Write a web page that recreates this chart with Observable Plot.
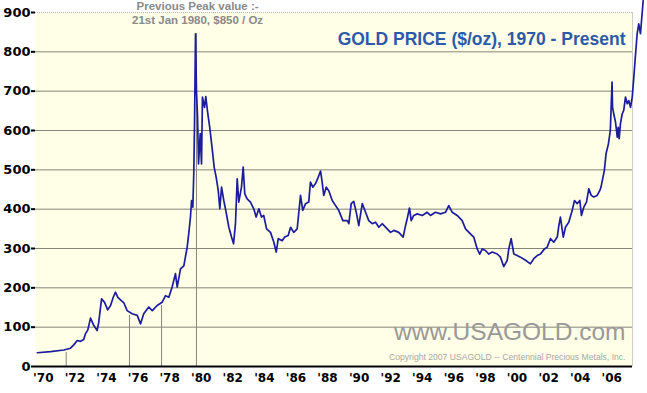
<!DOCTYPE html>
<html><head><meta charset="utf-8">
<script src="https://cdn.jsdelivr.net/npm/d3@7"></script>
<script src="https://cdn.jsdelivr.net/npm/@observablehq/plot@0.6"></script>
<style>body{margin:0;background:#fff}</style>
</head><body><div id="chart"></div>
<script>
// Gold price series (decimal year, $/oz)
const years = [1970.00,1970.84,1971.68,1972.10,1972.31,1972.53,1972.74,1972.94,1973.05,1973.20,1973.37,1973.58,1973.79,1973.89,1974.07,1974.26,1974.46,1974.64,1974.81,1974.95,1975.10,1975.27,1975.48,1975.69,1976.01,1976.33,1976.54,1976.74,1977.06,1977.28,1977.59,1977.91,1978.12,1978.33,1978.54,1978.75,1978.86,1979.07,1979.28,1979.49,1979.59,1979.70,1979.77,1979.85,1979.91,1979.96,1980.02,1980.08,1980.15,1980.21,1980.32,1980.40,1980.46,1980.59,1980.67,1980.80,1980.92,1981.11,1981.20,1981.33,1981.46,1981.56,1981.67,1981.81,1981.96,1982.13,1982.30,1982.43,1982.55,1982.66,1982.76,1982.93,1983.04,1983.14,1983.29,1983.50,1983.71,1983.86,1984.03,1984.20,1984.34,1984.52,1984.77,1984.98,1985.13,1985.26,1985.51,1985.67,1985.89,1986.04,1986.24,1986.46,1986.67,1986.81,1986.99,1987.19,1987.30,1987.45,1987.62,1987.79,1987.94,1988.04,1988.14,1988.30,1988.46,1988.68,1988.89,1989.09,1989.35,1989.63,1989.73,1989.88,1990.04,1990.22,1990.36,1990.58,1990.79,1990.99,1991.21,1991.42,1991.63,1991.84,1992.16,1992.37,1992.58,1992.89,1993.17,1993.32,1993.43,1993.57,1993.68,1993.84,1994.06,1994.38,1994.69,1994.90,1995.22,1995.54,1995.85,1996.06,1996.28,1996.59,1996.91,1997.12,1997.43,1997.64,1997.86,1998.02,1998.18,1998.38,1998.59,1998.81,1999.13,1999.33,1999.54,1999.76,1999.86,2000.01,2000.18,2000.39,2000.60,2000.92,2001.23,2001.44,2001.66,2001.87,2002.12,2002.29,2002.50,2002.71,2002.93,2003.03,2003.13,2003.31,2003.45,2003.66,2003.88,2004.02,2004.19,2004.36,2004.46,2004.61,2004.78,2004.93,2005.08,2005.24,2005.46,2005.62,2005.70,2005.91,2006.02,2006.17,2006.29,2006.40,2006.43,2006.51,2006.62,2006.73,2006.79,2006.85,2006.93,2007.04,2007.14,2007.25,2007.36,2007.46,2007.57,2007.68,2007.78,2007.89,2007.99,2008.09,2008.20,2008.37];
const prices = [35,38,42,46.5,55,66,64,68.6,83,93,123,104,91.5,112,172,163,144,155,176,189,176,169.5,162,142,134,130,108.5,134,151,142,155,163.5,180,176,202,236,202,248,256,303,337,380,422,405,490,625,846,702,634,515,592,515,685,659,686,642,608,541,507,481,447,401,456,422,392,354,329,312,363,477,418,456,507,439,426,418,401,380,401,380,384,350,341,316,291,325,320,329,333,354,341,350,435,397,414,418,469,456,465,481,497,469,435,456,447,422,409,397,371,371,363,414,420,388,358,414,392,371,363,367,354,363,350,341,346,341,329,358,376,403,371,384,388,384,392,384,392,388,392,409,392,384,371,350,337,329,299,286,299,295,286,291,286,278,254,270,299,325,286,282,278,270,261,274,282,286,299,303,325,316,329,358,380,329,354,367,397,422,414,422,384,405,418,452,435,431,435,447,456,498,541,566,600,723,659,642,621,583,608,579,617,642,651,685,668,676,659,685,736,795,846,871,846,930];

// Axis ticks and labels
const yTicks = [0,100,200,300,400,500,600,700,800,900];
const xTickYears = [1970,1972,1974,1976,1978,1980,1982,1984,1986,1988,1990,1992,1994,1996,1998,2000,2002,2004,2006];
const xTickLabels = ["'70","'72","'74","'76","'78","'80","'82","'84","'86","'88","'90","'92","'94","'96","'98","'00","'02","'04","'06"];

// Event drop lines
const markerYears = [1971.83, 1975.84, 1977.87, 1980.08];
const markerTops = [36, 130, 155, 846];

// Texts
const titleText = "GOLD PRICE ($/oz), 1970 - Present";
const peakLines = ["Previous Peak value :-", "21st Jan 1980, $850 / Oz"];
const peakYear = 1980.15;
const siteText = "www.USAGOLD.com";
const copyrightText = "Copyright 2007 USAGOLD -- Centennial Precious Metals, Inc.";

const data = years.map((y, i) => ({year: y, price: prices[i]}));
const markers = markerYears.map((y, i) => ({year: y, top: markerTops[i]}));
const xDomain = [1969.886, 2007.695];
const labelOf = new Map(xTickYears.map((y, i) => [y, xTickLabels[i]]));

const chart = Plot.plot({
  width: 647, height: 393,
  marginLeft: 35, marginRight: 15, marginTop: 12, marginBottom: 27,
  x: {domain: xDomain, label: null},
  y: {domain: [0, 900], label: null},
  style: {background: "#ffffff", fontFamily: "DejaVu Sans", fontSize: "12px", fontWeight: "bold", color: "#000", overflow: "visible"},
  marks: [
    Plot.frame({fill: "#fffee6", stroke: null}),
    Plot.ruleY(yTicks.filter(d => d > 0 && d < 900), {stroke: "#85857a", strokeWidth: 1}),
    Plot.ruleY([900], {stroke: "#b8b8b0", strokeDasharray: "1,1"}),
    Plot.ruleX([xDomain[1]], {stroke: "#cfcfc4"}),
    Plot.ruleX(markers, {x: "year", y1: 0, y2: "top", stroke: "#85857a", strokeWidth: 1}),
    Plot.line(data, {x: "year", y: "price", stroke: "#1c1c9e", strokeWidth: 1.7, strokeLinejoin: "round"}),
    Plot.ruleY([0], {stroke: "#000", strokeWidth: 2}),
    Plot.axisY({ticks: yTicks, tickSize: 4, tickPadding: 1, fontSize: 13, fontWeight: "bold", strokeWidth: 2, label: null}),
    Plot.axisX({ticks: xTickYears, tickSize: 0, tickPadding: 7, dx: 6, fontSize: 12, fontWeight: "bold", label: null, tickFormat: d => labelOf.get(d)}),
    Plot.text([titleText], {frameAnchor: "top-right", textAnchor: "end", dx: -7, dy: 20.5, fill: "#2c5aa8", fontSize: 17.5, fontFamily: "Liberation Sans", fontWeight: "bold"}),
    Plot.text([peakLines[0]], {x: () => peakYear, y: () => 900, dy: -6.2, fill: "#8a8a8a", fontSize: 11.5, fontFamily: "Liberation Sans", fontWeight: "bold"}),
    Plot.text([peakLines[1]], {x: () => peakYear, y: () => 900, dy: 7.5, fill: "#8a8a8a", fontSize: 11.5, fontFamily: "Liberation Sans", fontWeight: "bold"}),
    Plot.text([siteText], {frameAnchor: "bottom-right", textAnchor: "end", dx: -7, dy: -27, fill: "#999999", fontSize: 24.5, fontFamily: "Liberation Sans", fontWeight: "normal"}),
    Plot.text([copyrightText], {frameAnchor: "bottom-right", textAnchor: "end", dx: -7, dy: -7, fill: "#a8a8a8", fontSize: 8.6, fontFamily: "Liberation Sans", fontWeight: "normal"})
  ]
});
document.getElementById("chart").appendChild(chart);
</script>
</body></html>
